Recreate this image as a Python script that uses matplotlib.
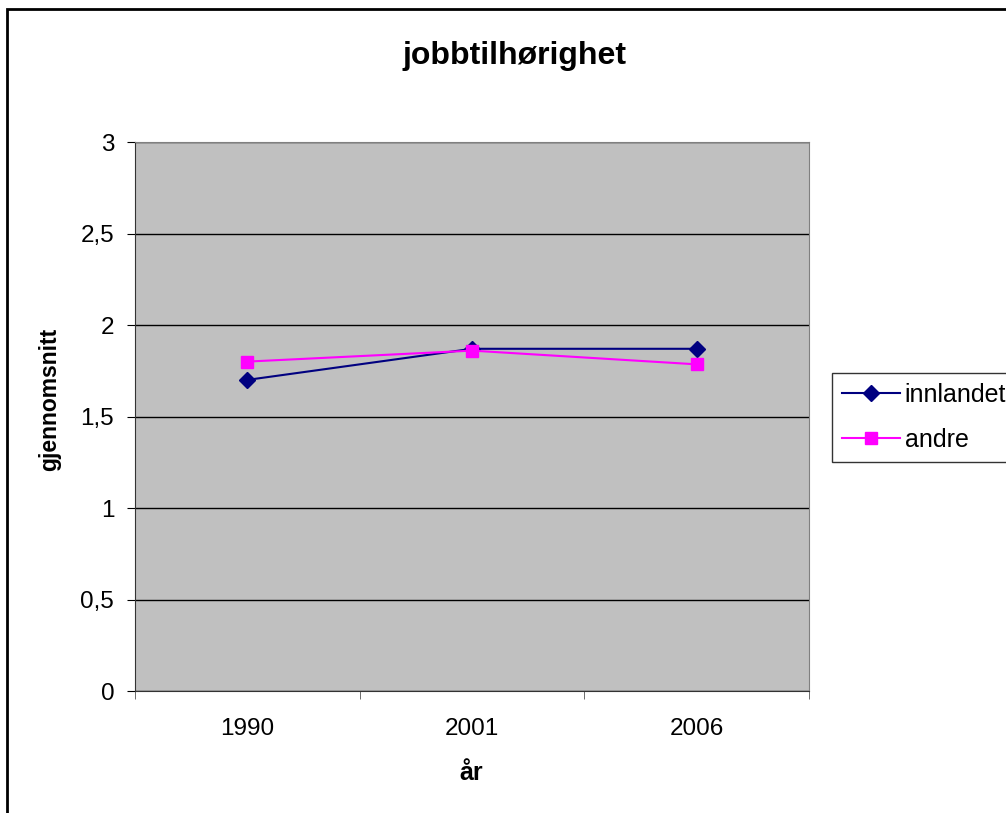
import numpy as np
import matplotlib.pyplot as plt
from matplotlib.patches import Rectangle

plt.rcParams['font.family'] = ['Liberation Sans', 'DejaVu Sans']

years = ['1990', '2001', '2006']
innlandet = [1.70, 1.87, 1.87]
andre = [1.80, 1.86, 1.785]
yticks = [0, 0.5, 1, 1.5, 2, 2.5, 3]


def plot_chart():
    fig = plt.figure(figsize=(10.06, 8.13), dpi=100)
    ax = fig.add_axes([135/1006, 1-691/813, 674/1006, 549/813])
    ax.set_facecolor('#c0c0c0')

    x = np.arange(len(years))
    ax.plot(x, innlandet, color='#000080', marker='D', markersize=8.5, lw=1.5,
            label='innlandet')
    ax.plot(x, andre, color='#ff00ff', marker='s', markersize=8.5, lw=1.5,
            label='andre')

    ax.set_xlim(-0.5, len(years) - 0.5)
    ax.set_ylim(0, 3)
    ax.set_yticks(yticks)
    ax.set_yticklabels([str(v).replace('.', ',') if v % 1 else str(int(v)) for v in yticks])
    ax.yaxis.grid(True, color='black', lw=1)
    ax.set_axisbelow(True)

    ax.set_xticks(x)
    ax.set_xticklabels(years)
    ax.set_xticks(np.arange(len(years) + 1) - 0.5, minor=True)
    ax.tick_params(axis='x', which='major', length=0, pad=19.5, labelsize=17.5)
    ax.tick_params(axis='x', which='minor', length=6, direction='out', color='#555555')
    ax.tick_params(axis='y', length=6, direction='out', labelsize=17.5, pad=9)

    for s in ['top', 'right']:
        ax.spines[s].set_color('#808080')
    for s in ['left', 'bottom']:
        ax.spines[s].set_color('#333333')

    ax.set_xlabel('år', fontsize=18, fontweight='bold')
    ax.set_ylabel('gjennomsnitt', fontsize=16.5, fontweight='bold')
    ax.xaxis.set_label_coords(471/1006, 1-773/813, transform=fig.transFigure)
    ax.yaxis.set_label_coords(50/1006, 1-399/813, transform=fig.transFigure)
    for lab in (ax.xaxis.label, ax.yaxis.label):
        lab.set_verticalalignment('center')
    fig.text(514/1006, 1-56/813, 'jobbtilhørighet', fontsize=23, fontweight='bold',
             ha='center', va='center')

    leg = fig.legend(loc='upper left', bbox_to_anchor=(832/1006, 1-373/813),
                     fontsize=18, frameon=True, fancybox=False, edgecolor='black',
                     handlelength=2.3, handletextpad=0.2, borderpad=0.4,
                     labelspacing=0.85, borderaxespad=0)
    leg.get_frame().set_linewidth(1)

    fig.patches.append(Rectangle((7/1006, -0.05), 1.1, 1.05 - 9/813, fill=False,
                                 lw=2, edgecolor='black', transform=fig.transFigure))

    plt.savefig('out.png', dpi=100)


if __name__ == "__main__":
    plot_chart()
